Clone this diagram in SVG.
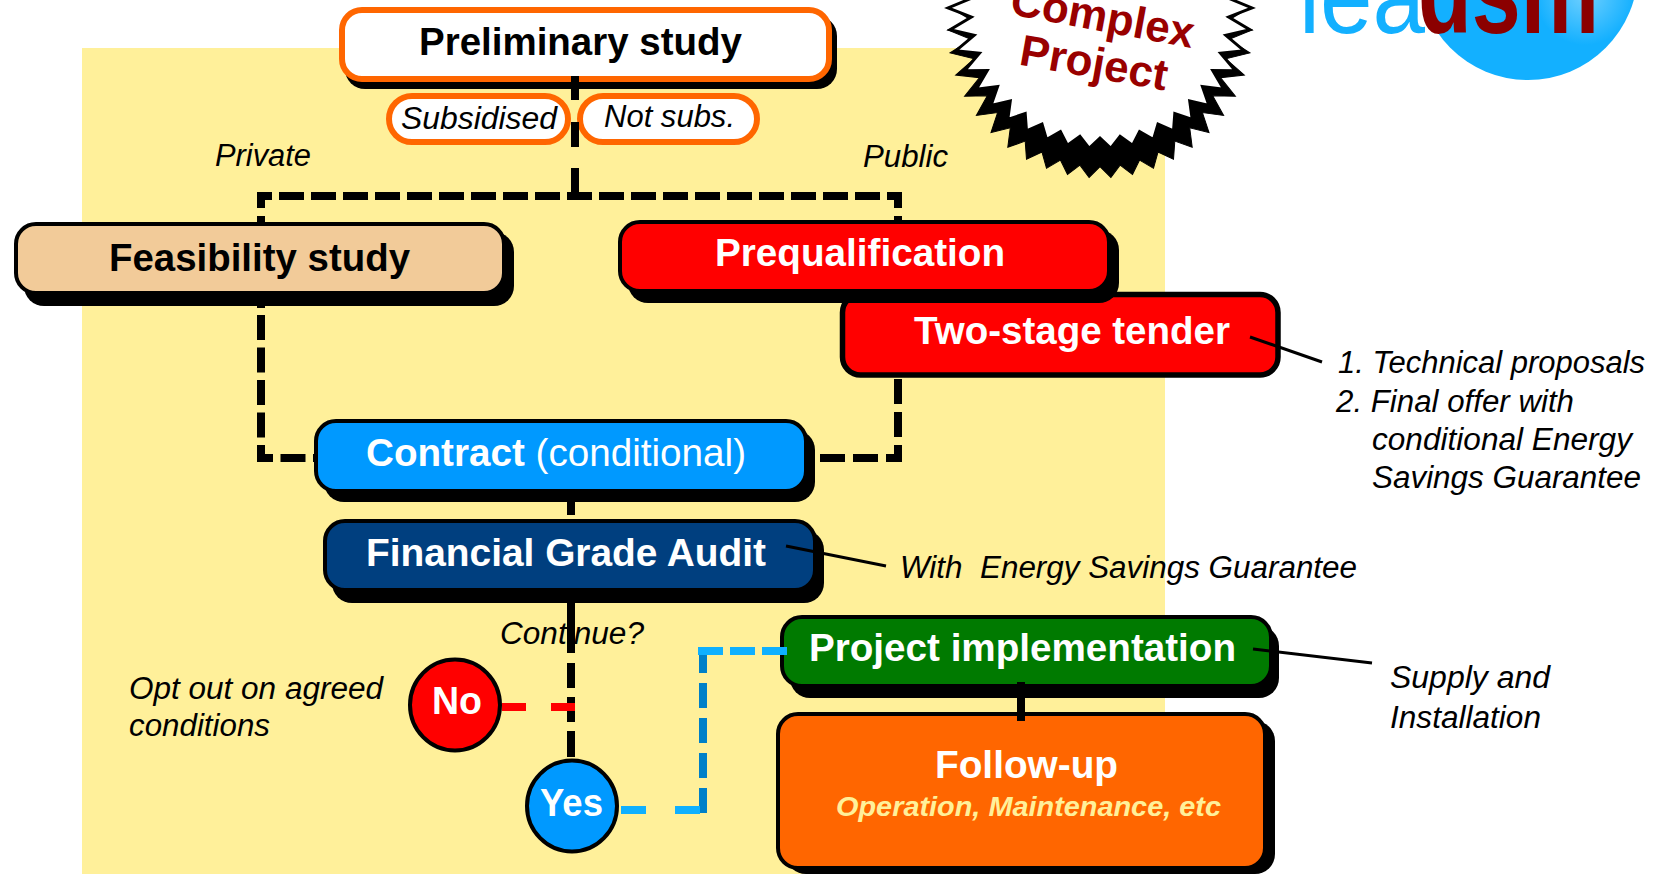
<svg xmlns="http://www.w3.org/2000/svg" width="1659" height="874" viewBox="0 0 1659 874">
<style>
text{font-family:"Liberation Sans",Arial,sans-serif}
.h{font-weight:bold;font-size:38px}
.w{fill:#fff}
.k{fill:#000}
.i{font-style:italic;font-size:31px;fill:#000}
.sh{fill:#000}
.b{stroke:#000;stroke-width:4}
.o{stroke:#ff6600;stroke-width:6;fill:#fff}
.c{fill:none;stroke-width:8}
.kd{stroke:#000}
.l{fill:none;stroke:#000;stroke-width:3}
.st{font-size:44px;font-weight:bold;fill:#990000}
</style>
<defs>
<radialGradient id="disk" gradientUnits="userSpaceOnUse" cx="1585" cy="-5" r="50"><stop offset="0" stop-color="#70d0ff"/><stop offset="1" stop-color="#13b0ff"/></radialGradient>
<polygon id="star" points="0,136 10.9,146.6 20.1,134.4 32.5,143.6 39.6,129.5 53.5,137.6 58,121.6 73.5,128.7 74.8,110.9 92.2,116.9 89.7,97.9 109,102.5 102.4,82.9 123.6,85.7 112.7,66.4 135.4,66.8 120.5,48.7 144.3,46.2 125.8,30.2 149.9,24.4 128.6,11.3 152,2 128.8,-7.9 150.5,-20.5 126.5,-26.9 145.5,-42.4 121.7,-45.5 -121.7,-45.5 -145.5,-42.4 -126.5,-26.9 -150.5,-20.5 -128.8,-7.9 -152,2 -128.6,11.3 -149.9,24.4 -125.8,30.2 -144.3,46.2 -120.5,48.7 -135.4,66.8 -112.7,66.4 -123.6,85.7 -102.4,82.9 -109,102.5 -89.7,97.9 -92.2,116.9 -74.8,110.9 -73.5,128.7 -58,121.6 -53.5,137.6 -39.6,129.5 -32.5,143.6 -20.1,134.4 -10.9,146.6"/>
</defs>
<rect width="1659" height="874" fill="#fff"/>
<rect x="82" y="48" width="1083" height="826" fill="#fff09a"/>

<g id="logo">
<circle cx="1528" cy="-30" r="110" fill="url(#disk)"/>
<text x="1299" y="33" font-size="105" fill="#13b0ff" textLength="126" lengthAdjust="spacingAndGlyphs">iea</text>
<text x="1418" y="33" font-size="120" font-weight="bold" fill="#8b0000" textLength="181" lengthAdjust="spacingAndGlyphs">dsm</text>
</g>

<g id="complex-project">
<use href="#star" transform="translate(1100 28) scale(1 1.02)" fill="#000" stroke="#000"/>
<use href="#star" transform="translate(1100 6) scale(1 .97)" fill="#fff" stroke="#000" stroke-width="3"/>
<text class="st" transform="translate(1100 31) rotate(10.5)" text-anchor="middle">Complex</text>
<text class="st" transform="translate(1091.500 77.500) rotate(10)" text-anchor="middle">Project</text>
</g>

<g id="preliminary-study">
<rect class="sh" x="345" y="16" width="492" height="73" rx="20"/>
<rect class="o" x="342" y="10" width="487" height="69" rx="20"/>
<text class="h k" x="419" y="55" textLength="323" lengthAdjust="spacingAndGlyphs">Preliminary study</text>
</g>
<g id="subsidised">
<rect class="o" x="389" y="96" width="179" height="46" rx="23"/>
<text class="i" x="401" y="129" textLength="156" lengthAdjust="spacingAndGlyphs">Subsidised</text>
</g>
<g id="not-subs">
<rect class="o" x="580" y="96" width="177" height="46" rx="23"/>
<text class="i" x="604" y="127" textLength="131" lengthAdjust="spacingAndGlyphs">Not subs.</text>
</g>

<g id="feasibility-study">
<rect class="sh" x="24" y="232" width="490" height="74" rx="20"/>
<rect class="b" x="16" y="224" width="488" height="69" rx="20" fill="#f2cb99"/>
<text class="h k" x="109" y="271" textLength="301" lengthAdjust="spacingAndGlyphs">Feasibility study</text>
</g>
<g id="two-stage-tender">
<rect class="b" x="842.5" y="294.5" width="435.500" height="80.500" rx="18" fill="#ff0000" style="stroke-width:5.5"/>
<text class="h w" x="914" y="344" textLength="316" lengthAdjust="spacingAndGlyphs">Two-stage tender</text>
</g>
<g id="prequalification">
<rect class="sh" x="628" y="230" width="491" height="73" rx="20"/>
<rect class="b" x="620" y="222" width="489" height="69" rx="20" fill="#ff0000"/>
<text class="h w" x="715" y="266" textLength="290" lengthAdjust="spacingAndGlyphs">Prequalification</text>
</g>
<g id="contract">
<rect class="sh" x="324" y="430" width="491" height="72" rx="20"/>
<rect class="b" x="316" y="421" width="490" height="70" rx="20" fill="#0099ff"/>
<text class="h w" x="366" y="466" textLength="380" lengthAdjust="spacingAndGlyphs">Contract <tspan font-weight="normal">(conditional)</tspan></text>
</g>
<g id="financial-grade-audit">
<rect class="sh" x="332" y="530" width="492" height="73" rx="20"/>
<rect class="b" x="325" y="521" width="490" height="69" rx="20" fill="#003f7f"/>
<text class="h w" x="366" y="566" textLength="400" lengthAdjust="spacingAndGlyphs">Financial Grade Audit</text>
</g>
<g id="project-implementation">
<rect class="sh" x="790" y="626" width="489" height="72" rx="20"/>
<rect class="b" x="782" y="617" width="489" height="69" rx="20" fill="#007a00"/>
<text class="h w" x="809" y="661" textLength="427" lengthAdjust="spacingAndGlyphs">Project implementation</text>
</g>
<g id="follow-up">
<rect class="sh" x="786" y="721" width="489" height="153" rx="20"/>
<rect class="b" x="778" y="714" width="487" height="154" rx="20" fill="#ff6600"/>
<text class="h w" x="935" y="778" textLength="183" lengthAdjust="spacingAndGlyphs">Follow-up</text>
<text x="836" y="816" font-size="28" font-weight="bold" font-style="italic" fill="#fff09a" textLength="385" lengthAdjust="spacingAndGlyphs">Operation, Maintenance, etc</text>
</g>
<g id="no">
<ellipse class="b" cx="455" cy="705" rx="45" ry="45.500" fill="#ff0000"/>
<text class="h w" x="432" y="714" textLength="50" lengthAdjust="spacingAndGlyphs">No</text>
</g>
<g id="yes">
<ellipse class="b" cx="572" cy="806" rx="45" ry="45.500" fill="#0099ff"/>
<text class="h w" x="540" y="816" textLength="63" lengthAdjust="spacingAndGlyphs">Yes</text>
</g>

<g id="connectors">
<path class="c kd" d="M575 76V100M575 122V147M575 168V196"/>
<path class="c kd" d="M258 196H902" stroke-dasharray="25 7" stroke-dashoffset="11"/>
<path class="c kd" d="M261 192V208M261 216V223M898 192V208M898 216V223"/>
<path class="c kd" d="M261 305V308"/>
<path class="c kd" d="M261 315V458H316" stroke-dasharray="25 7.500"/>
<path class="c kd" d="M898 379V458H820" stroke-dasharray="25 8"/>
<path class="c kd" d="M571 500V515"/>
<path class="c kd" d="M571 600V653M571 663V688M571 697V722M571 731V757"/>
<path class="c" stroke="#ff0000" d="M502 707H576" stroke-dasharray="24 25"/>
<path class="c" stroke="#0080c8" d="M703 813V648" stroke-dasharray="25 10"/>
<path class="c" stroke="#0fb0ff" d="M698 651H787" stroke-dasharray="25 7"/>
<path class="c" stroke="#0fb0ff" d="M621 810H700" stroke-dasharray="25 29"/>
<path class="c kd" d="M1021 682V721"/>
<path class="l" d="M1250 337L1322 362"/>
<path class="l" d="M786 546L886 566"/>
<path class="l" d="M1253 649L1372 663"/>
</g>

<text class="i" x="215" y="166" textLength="96" lengthAdjust="spacingAndGlyphs">Private</text>
<text class="i" x="863" y="167" textLength="85" lengthAdjust="spacingAndGlyphs">Public</text>
<text class="i" x="900" y="578" textLength="457" lengthAdjust="spacingAndGlyphs" xml:space="preserve">With  Energy Savings Guarantee</text>
<text class="i" x="500" y="644" textLength="144" lengthAdjust="spacingAndGlyphs">Continue?</text>
<text class="i" x="129" y="699" textLength="254" lengthAdjust="spacingAndGlyphs">Opt out on agreed</text>
<text class="i" x="129" y="736" textLength="141" lengthAdjust="spacingAndGlyphs">conditions</text>
<text class="i" x="1338" y="373" textLength="307" lengthAdjust="spacingAndGlyphs">1. Technical proposals</text>
<text class="i" x="1336" y="412" textLength="238" lengthAdjust="spacingAndGlyphs">2. Final offer with</text>
<text class="i" x="1372" y="450" textLength="260" lengthAdjust="spacingAndGlyphs">conditional Energy</text>
<text class="i" x="1372" y="488" textLength="269" lengthAdjust="spacingAndGlyphs">Savings Guarantee</text>
<text class="i" x="1390" y="688" textLength="160" lengthAdjust="spacingAndGlyphs">Supply and</text>
<text class="i" x="1390" y="728" textLength="151" lengthAdjust="spacingAndGlyphs">Installation</text>
</svg>
